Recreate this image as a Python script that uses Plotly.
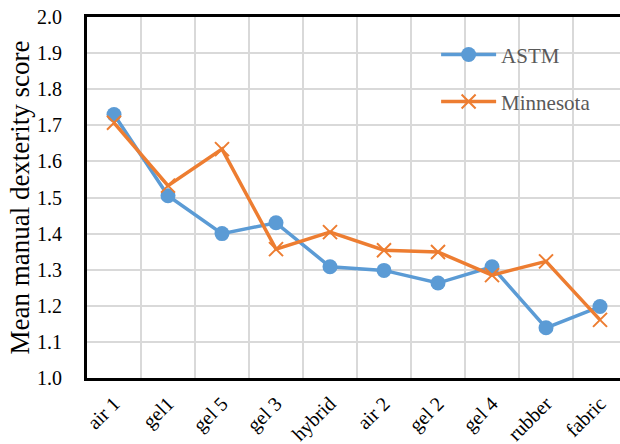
import plotly.graph_objects as go

# glove conditions along the x axis
categories = ["air 1", "gel1", "gel 5", "gel 3", "hybrid",
              "air 2", "gel 2", "gel 4", "rubber", "fabric"]

# mean manual dexterity score per test
astm = [1.73, 1.505, 1.40, 1.43, 1.308, 1.298, 1.263, 1.308, 1.139, 1.198]
minnesota = [1.707, 1.533, 1.634, 1.357, 1.404, 1.354, 1.349, 1.285, 1.323, 1.161]

y_ticks = [1.0, 1.1, 1.2, 1.3, 1.4, 1.5, 1.6, 1.7, 1.8, 1.9, 2.0]

BLUE = "#5B9BD5"
ORANGE = "#ED7D31"
FONT = "Liberation Serif"

fig = go.Figure()

fig.add_trace(go.Scatter(
    x=categories,
    y=astm,
    name="ASTM",
    mode="lines+markers",
    line=dict(color=BLUE, width=3.5),
    marker=dict(symbol="circle", size=15, color=BLUE),
    showlegend=True,
    legend="legend"
))

fig.add_trace(go.Scatter(
    x=categories,
    y=minnesota,
    name="Minnesota",
    mode="lines+markers",
    line=dict(color=ORANGE, width=3.5),
    marker=dict(symbol="x-thin-open", size=14,
                line=dict(color=ORANGE, width=2)),
    showlegend=True,
    legend="legend2"
))

legend_style = dict(
    xanchor="left", yanchor="middle",
    bgcolor="rgba(0,0,0,0)",
    font=dict(family=FONT, size=21, color="#595959"),
    itemwidth=55,
    visible=True
)

fig.update_layout(
    width=620,
    height=444,
    showlegend=True,
    plot_bgcolor="white",
    paper_bgcolor="white",
    margin=dict(l=87, r=0, t=17, b=66),
    font=dict(family=FONT, color="black"),
    legend=dict(x=0.655, y=0.895, **legend_style),
    legend2=dict(x=0.655, y=0.765, **legend_style),
    xaxis=dict(
        type="category",
        range=[-0.5, 9.37],
        tickson="boundaries",
        ticks="",
        tickangle=-45,
        tickfont=dict(size=20),
        ticklabelstandoff=3,
        automargin=False,
        showgrid=True,
        gridcolor="#d9d9d9",
        gridwidth=1.5,
        showline=True,
        linecolor="black",
        linewidth=3,
        mirror=True
    ),
    yaxis=dict(
        title=dict(text="Mean manual dexterity score",
                   font=dict(size=27), standoff=0),
        range=[1.0, 2.0],
        tickvals=y_ticks,
        tickformat=".1f",
        tickfont=dict(size=20),
        ticklabelstandoff=18,
        automargin=False,
        showgrid=True,
        gridcolor="#d9d9d9",
        gridwidth=1.5,
        zeroline=False,
        showline=True,
        linecolor="black",
        linewidth=3
    )
)

# drop the default page margin so the figure sits flush in the window
fig.write_html("out.html", config={"displayModeBar": False},
               post_script="document.body.style.margin = '0';")
